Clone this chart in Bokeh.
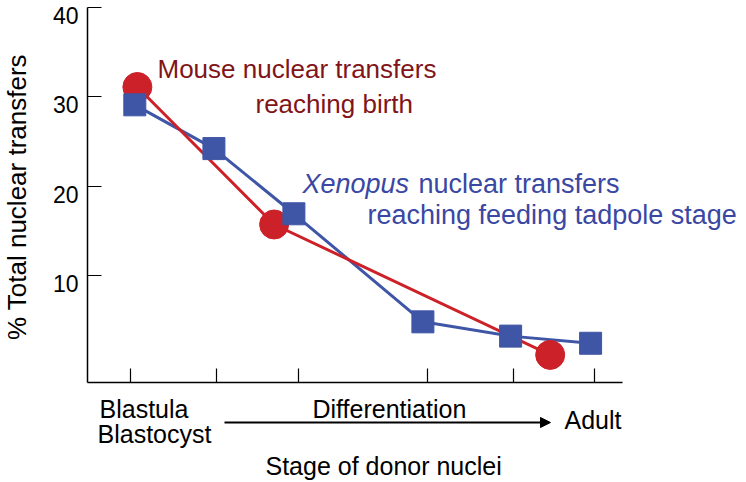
import math
from bokeh.plotting import figure
from bokeh.models import Label, Arrow, NormalHead, FixedTicker, Range1d, LinearAxis
from bokeh.core.properties import value
from bokeh.embed import file_html
from bokeh.resources import INLINE

# ---- data ----
stage_ticks = [0.5, 1.5, 2.45, 3.95, 4.95, 5.9]
xenopus_x = [0.55, 1.47, 2.4, 3.9, 4.92, 5.85]
xenopus_y = [29.1, 24.2, 16.9, 4.8, 3.2, 2.4]
mouse_x = [0.58, 2.17, 5.38]
mouse_y = [31.1, 15.7, 1.1]
y_ticks = [10, 20, 30, 40]
y_tick_labels = ["10", "20", "30", "40"]
y_label = "% Total nuclear transfers"
x_label = "Stage of donor nuclei"
stage_labels_left = ["Blastula", "Blastocyst"]
stage_label_mid = "Differentiation"
stage_label_right = "Adult"
mouse_text = ["Mouse nuclear transfers", "reaching birth"]
xenopus_text = ["Xenopus", "nuclear transfers", "reaching feeding tadpole stage"]

RED = "#CC2128"
BLUE = "#3F56A6"
RED_TXT = "#801418"
BLUE_TXT = "#3A47A3"
FONT = "Liberation Sans"

W, H = 746, 482
PX_X = 86.0      # pixels per x unit
PX_Y = 8.93      # pixels per y unit
AXIS_X = 87      # canvas x of the y axis (x = 0)
TOP40 = 7        # canvas y of the 40 tick
X0 = -AXIS_X / PX_X
X1 = X0 + W / PX_X
Y1 = 40 + TOP40 / PX_Y
Y0 = Y1 - H / PX_Y
X_AXIS_AT = -2.0
X_AXIS_END = 6.22
SHIFT = 9        # label anchor correction (px)

p = figure(width=W, height=H, output_backend="svg", toolbar_location=None,
           x_range=Range1d(X0, X1), y_range=Range1d(Y0, Y1),
           x_axis_location=None, y_axis_location=None, min_border=0)
p.outline_line_color = None
p.xgrid.visible = False
p.ygrid.visible = False

def dx(xp):
    return X0 + xp / PX_X
def dy(yp):
    return Y1 - yp / PX_Y

# axes (fixed inside the frame)
ya = LinearAxis(fixed_location=0, bounds=(X_AXIS_AT, 40),
                ticker=FixedTicker(ticks=y_ticks))
xa = LinearAxis(fixed_location=X_AXIS_AT, bounds=(0, X_AXIS_END),
                ticker=FixedTicker(ticks=stage_ticks))
for a in (ya, xa):
    a.major_tick_in = 14
    a.major_tick_out = 0
    a.minor_tick_in = 0
    a.minor_tick_out = 0
    a.axis_line_width = 1.5
    a.major_tick_line_width = 1.2
    a.axis_line_color = "black"
    a.major_tick_line_color = "black"
    a.major_label_text_color = None
p.add_layout(ya, "left")
p.add_layout(xa, "below")

# y tick labels (placed a little below their ticks, as in the original)
p.text(x=[0] * len(y_ticks), y=y_ticks, text=y_tick_labels, x_offset=-9, y_offset=8,
       text_align="right", text_baseline="middle", text_font_size="23px",
       text_color="black", text_font=value(FONT))

# series
p.line(xenopus_x, xenopus_y, line_color=BLUE, line_width=3)
p.line(mouse_x, mouse_y, line_color=RED, line_width=3)
p.scatter(mouse_x, mouse_y, marker="circle", size=29, fill_color=RED, line_color=RED)
p.scatter(xenopus_x, xenopus_y, marker="square", size=22, fill_color=BLUE, line_color=BLUE)

def lab(text, xp, yp, size, color="black", style="normal", align="left", angle=0.0):
    p.add_layout(Label(x=dx(xp), y=dy(yp), text=text, text_font=FONT,
                       text_font_size=size, text_color=color, angle=angle,
                       text_font_style=style, text_baseline="alphabetic",
                       text_align=align))

lab(y_label, 25 - SHIFT, 196.5, "26px", align="center", angle=math.pi / 2)

lab(mouse_text[0], 157, 77 - SHIFT, "26px", RED_TXT)
lab(mouse_text[1], 255, 112 - SHIFT, "26px", RED_TXT)
lab(xenopus_text[0], 302, 192 - SHIFT, "27px", BLUE_TXT, "italic")
lab(xenopus_text[1], 418, 192 - SHIFT, "27px", BLUE_TXT)
lab(xenopus_text[2], 367, 223 - SHIFT, "27px", BLUE_TXT)

lab(stage_labels_left[0], 99, 417 - SHIFT, "25px")
lab(stage_labels_left[1], 97, 442 - SHIFT, "25px")
lab(stage_label_mid, 312, 417 - SHIFT, "25px")
lab(stage_label_right, 564, 428 - SHIFT, "25px")
lab(x_label, 265, 474 - SHIFT, "25px")

p.add_layout(Arrow(x_start=dx(224), y_start=dy(422), x_end=dx(550), y_end=dy(422),
                   line_color="black", line_width=2,
                   end=NormalHead(size=10, fill_color="black", line_color="black")))

open("out.html", "w").write(file_html(p, INLINE))
